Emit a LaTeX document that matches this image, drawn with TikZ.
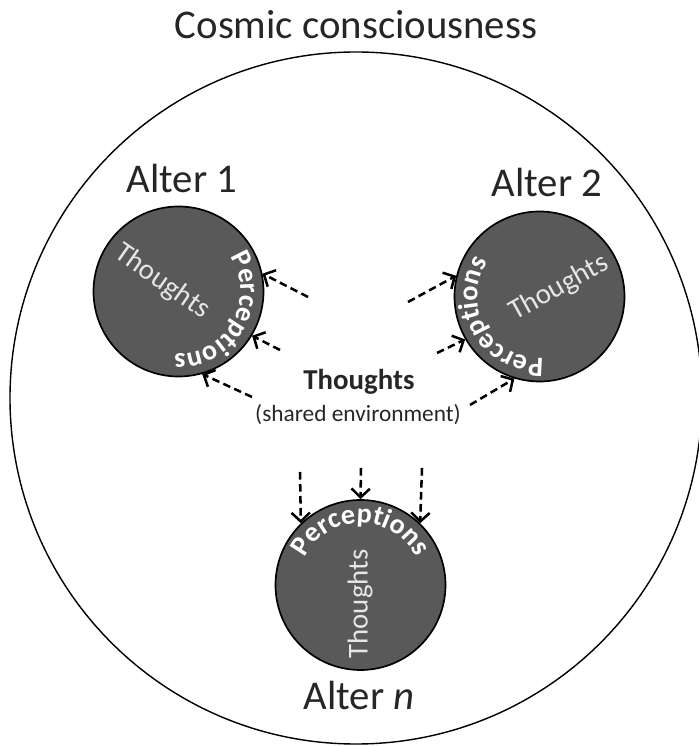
\documentclass[tikz,border=0pt]{standalone}
\usepackage{fontspec}
\setmainfont{Carlito}
\usetikzlibrary{arrows.meta,decorations.text}
\definecolor{alterfill}{HTML}{595959}
\definecolor{thoughtgray}{HTML}{E6E6E6}
\newcommand{\percfont}{\fontsize{20}{20}\selectfont\bfseries\color{white}}
\tikzset{
  alter/.style={circle, draw=black, line width=1.2pt, fill=alterfill, minimum size=42.5mm, inner sep=0pt},
  altername/.style={anchor=base, font=\fontsize{29}{29}\selectfont, text=black!85},
  thought/.style={font=\fontsize{20.5}{20.5}\selectfont, text=thoughtgray},
  feed/.style={dashed, dash pattern=on 1.9mm off 1.1mm, line width=1.8pt, -{Straight Barb[length=2.2mm,width=4.6mm]}},
  percpath/.style={decorate, decoration={text along path, text align=center, text={|\percfont|Perceptions}}}
}
\begin{document}
\begin{tikzpicture}[x=0.25mm,y=0.25mm]
  \useasboundingbox (0,0) rectangle (699,747);
  % outer circle and its title
  \node[draw, circle, line width=1pt, minimum size=173mm] (cosmic) at (356,349) {};
  \node[font=\fontsize{29}{29}\selectfont, text=black!85] (title) at (356,722) {Cosmic consciousness};
  % the three alters
  \node[alter] (a1) at (178.5,455.5) {};
  \node[alter] (a2) at (539.5,450.5) {};
  \node[alter] (an) at (360.5,162) {};
  \node[altername] (a1name) at (182,554) {Alter 1};
  \node[altername] (a2name) at (547,550) {Alter 2};
  \node[altername] (anname) at (359,37) {Alter \textit{n}};
  % thoughts inside
  \node[thought, rotate=-35] (a1th) at (162,465) {Thoughts};
  \node[thought, rotate=29] (a2th) at (559,459) {Thoughts};
  \node[thought, rotate=90] (anth) at (360,143) {Thoughts};
  % perceptions along the rims
  \path[percpath] (a1.center) ++(55:15.5mm) arc[start angle=55, end angle=-115, radius=15.5mm];
  \path[percpath] (a2.center) ++(295:15.5mm) arc[start angle=295, end angle=125, radius=15.5mm];
  \path[percpath] (an.center) ++(175:15.5mm) arc[start angle=175, end angle=5, radius=15.5mm];
  % shared environment
  \node[anchor=base, font=\fontsize{20.5}{20.5}\selectfont\bfseries, text=black!85] (env) at (359,357) {Thoughts};
  \node[anchor=base, font=\fontsize{16.6}{16.6}\selectfont, text=black!85] (envsub) at (358,325) {(shared environment)};
  % arrow tails
  \coordinate (t11) at (308,450);
  \coordinate (t12) at (280,397);
  \coordinate (t13) at (252,350);
  \coordinate (t21) at (408,445);
  \coordinate (t22) at (437,394);
  \coordinate (t23) at (470,342);
  \coordinate (tn1) at (300,275);
  \coordinate (tn2) at (361,279);
  \coordinate (tn3) at (422,279);
  \draw[feed] (t11) -- (a1.12);
  \draw[feed] (t12) -- (a1.-31);
  \draw[feed] (t13) -- (a1.-74);
  \draw[feed] (t21) -- (a2.166);
  \draw[feed] (t22) -- (a2.210);
  \draw[feed] (t23) -- (a2.253);
  \draw[feed] (tn1) -- (an.134);
  \draw[feed] (tn2) -- (an.90);
  \draw[feed] (tn3) -- (an.46);
\end{tikzpicture}
\end{document}
